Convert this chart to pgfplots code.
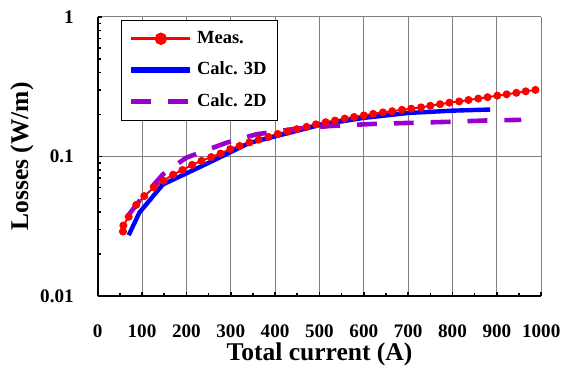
\documentclass[border=0pt]{standalone}
\usepackage{fontspec}
\setmainfont{Liberation Serif}
\usepackage{pgfplots}
\pgfplotsset{compat=1.18}
\definecolor{mred}{RGB}{255,0,0}
\definecolor{mblue}{RGB}{0,0,255}
\definecolor{mpurple}{RGB}{153,0,204}
\begin{document}
\begin{tikzpicture}
\begin{axis}[
  scale only axis,
  width=222.5pt, height=140pt,
  ymode=log,
  xmin=0, xmax=1000, ymin=0.01, ymax=1,
  xtick={0,100,...,1000},
  minor x tick num=1,
  ytick={0.01,0.1,1},
  yticklabels={0.01,0.1,1},
  minor ytick={0.02,0.03,0.04,0.05,0.06,0.07,0.08,0.09,0.2,0.3,0.4,0.5,0.6,0.7,0.8,0.9},
  axis x line*=bottom, axis y line*=left,
  axis line style={black, line width=1pt, -},
  tick align=inside,
  major tick length=2pt, minor tick length=1.5pt,
  tick style={black, line width=0.8pt},
  grid=major,
  major grid style={gray, line width=0.5pt},
  /pgf/number format/assume math mode=true,
  /pgf/number format/1000 sep={},
  ticklabel style={font=\bfseries\fontsize{9.6}{11}\selectfont},
  xticklabel style={yshift=-11pt},
  yticklabel style={xshift=-8.5pt},
  xlabel={Total current (A)},
  ylabel={Losses (W/m)},
  label style={font=\bfseries\fontsize{12.8}{14}\selectfont},
  xlabel style={at={(axis description cs:0.5,-0.232)}, anchor=base},
  ylabel style={at={(axis description cs:-0.1708,0.5)}, anchor=center},
  legend style={at={(0.053,0.99)}, anchor=north west, draw=black, line width=0.5pt,
    font=\bfseries\fontsize{9.3}{11}\selectfont, row sep=3.8pt,
    inner xsep=3.5pt, inner ysep=3.5pt},
  legend cell align=left,
  legend image code/.code={\draw[mark repeat=2,mark phase=2,#1] plot coordinates {(0pt,0pt) (14.75pt,0pt) (29.5pt,0pt)};},
]
\addplot[color=mred, line width=1pt, mark=*, mark size=1.75pt, mark options={solid, fill=mred, draw=mred, line width=0.5pt},
  legend image code/.code={\draw[mred, line width=1.5pt] (0pt,0pt) -- (29.5pt,0pt); \fill[mred] (14.75pt,0pt) circle (2.6pt);}] coordinates {
(57,0.029) (58,0.032) (70,0.037) (87,0.045) (105,0.052) (127,0.060) (148,0.067) (170,0.074)
(191,0.080) (213,0.087) (234,0.093) (256,0.099) (277,0.105) (299,0.113) (320,0.119) (342,0.126)
(363,0.132) (385,0.138) (406,0.145) (428,0.151) (449,0.157) (471,0.163) (492,0.170) (514,0.176)
(535,0.181) (557,0.187) (578,0.192) (600,0.197) (621,0.202) (643,0.207) (664,0.211) (686,0.216)
(707,0.220) (729,0.225) (750,0.231) (772,0.237) (793,0.243) (815,0.248) (836,0.254) (858,0.260)
(879,0.266) (901,0.273) (922,0.279) (944,0.286) (965,0.293) (987,0.300)
};
\addlegendentry{Meas.}
\addplot[color=mblue, line width=2.2pt,
  legend image code/.code={\draw[mblue, line width=2.8pt] (0pt,0pt) -- (29.5pt,0pt);}] coordinates {
(70,0.0273) (94,0.0396) (147,0.063) (250,0.090) (342,0.125) (454,0.154) (503,0.169)
(600,0.189) (700,0.205) (800,0.213) (885,0.217)
};
\addlegendentry{Calc. 3D}
\addplot[color=mpurple, line width=2.3pt, dash pattern=on 10pt off 8.5pt,
  legend image code/.code={\draw[mpurple, line width=2.6pt, dash pattern=on 10pt off 8.5pt] (0pt,0pt) -- (29.5pt,0pt);}] coordinates {
(68,0.0375) (94,0.048) (147,0.0744) (199,0.0978) (289,0.125) (357,0.144) (446,0.158)
(533,0.166) (619,0.171) (701,0.174) (787,0.177) (873,0.181) (955,0.183)
};
\addlegendentry{Calc. 2D}
\end{axis}
\path ([xshift=-49pt,yshift=-35pt]current axis.south west) rectangle ([xshift=12pt,yshift=8.5pt]current axis.north east);
\end{tikzpicture}
\end{document}
